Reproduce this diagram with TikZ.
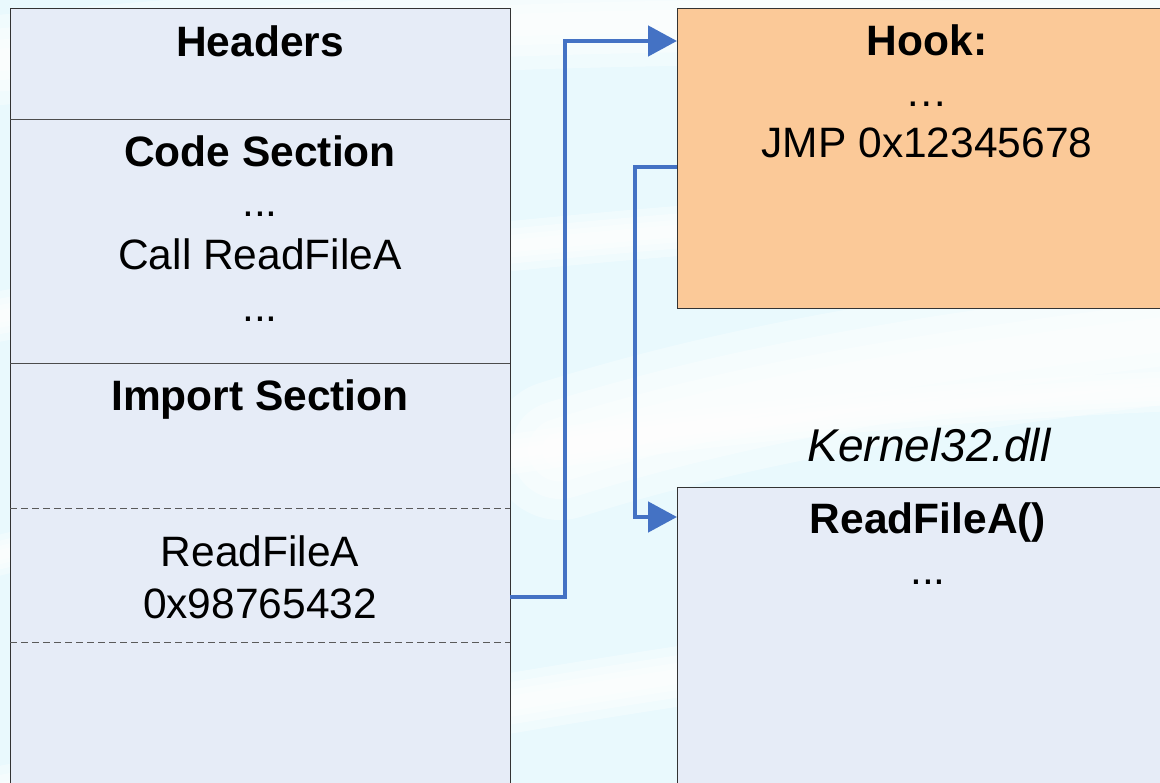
\documentclass[tikz,border=0pt]{standalone}
\usepackage{fontspec}
\setmainfont{Liberation Sans}
\usetikzlibrary{arrows.meta}
\definecolor{bgcyan}{RGB}{233,249,253}
\definecolor{secfill}{RGB}{230,236,247}
\definecolor{hookfill}{RGB}{251,201,152}
\definecolor{linkblue}{RGB}{68,114,196}
\definecolor{dashgray}{RGB}{90,90,90}
\tikzset{
  panel/.style={draw=black!80, line width=1pt},
  sep/.style={draw=black!70, line width=1pt},
  dsep/.style={draw=dashgray, line width=0.9pt, dash pattern=on 7pt off 4pt},
  txt/.style={inner sep=0pt, anchor=base, font=\fontsize{42.5}{50}\selectfont},
  btxt/.style={txt, font=\fontsize{42.5}{50}\selectfont\bfseries},
  link/.style={draw=linkblue, line width=4.8pt, line join=miter,
    -{Triangle[length=29pt 0,width=30pt 0]}},
}
% a soft white streak: several overlapping strokes of falling width
\newcommand\softstreak[2]{%
  \foreach \w in {#1, 0.7*#1, 0.45*#1, 0.25*#1}
    \draw[white, opacity=0.35, line width=\w pt, line cap=round] #2;}
\begin{document}
\begin{tikzpicture}[x=1pt,y=-1pt]
\useasboundingbox (0,0) rectangle (1160,783);
\begin{scope}
\clip (0,0) rectangle (1160,783);
% backdrop
\fill[bgcyan] (0,0) rectangle (1160,783);
\softstreak{90}{(0,60) .. controls (400,20) and (800,10) .. (1200,30)}
\softstreak{50}{(-20,320) .. controls (300,260) and (700,220) .. (1200,200)}
\softstreak{140}{(560,450) .. controls (750,390) and (950,360) .. (1200,330)}
\softstreak{40}{(-20,560) .. controls (300,480) and (700,410) .. (1200,390)}
\softstreak{60}{(-20,800) .. controls (300,740) and (700,660) .. (1200,610)}

% PE image sections
\node[panel, fill=secfill, minimum width=500pt, minimum height=800pt,
  anchor=north west, inner sep=0pt] (pe) at (10,8) {};
\coordinate (hdrsep) at (10,120);
\coordinate (codesep) at (10,364);
\draw[sep] (hdrsep) -- ++(500,0);
\draw[sep] (codesep) -- ++(500,0);
\coordinate (impA) at (10,508);
\coordinate (impB) at (10,642);
\draw[dsep] (impA) -- ++(500,0);
\draw[dsep] (impB) -- ++(500,0);

\node[btxt] (headers) at (260,57) {Headers};
\node[btxt] (codesec) at (260,167) {Code Section};
\node[txt] (cdots1) at (260,217) {...};
\node[txt] (callrf) at (260,270) {Call ReadFileA};
\node[txt] (cdots2) at (260,322) {...};
\node[btxt] (impsec) at (260,411) {Import Section};
\node[txt] (iatname) at (260,566) {ReadFileA};
\node[txt] (iataddr) at (260,618) {0x98765432};

% hook routine
\node[panel, fill=hookfill, minimum width=500pt, minimum height=300pt,
  anchor=north west, inner sep=0pt] (hook) at (677,8) {};
\node[btxt] (hooktitle) at (927,56) {Hook:};
\node[txt] (hookdots) at (927,107) {…};
\node[txt] (jmp) at (927,158) {JMP 0x12345678};

% kernel32 export
\node[txt, font=\fontsize{46}{52}\selectfont\itshape] (k32) at (929,462) {Kernel32.dll};
\node[panel, fill=secfill, minimum width=500pt, minimum height=400pt,
  anchor=north west, inner sep=0pt] (rfa) at (677,487) {};
\node[btxt] (rfatitle) at (928,533) {ReadFileA()};
\node[txt] (rfadots) at (928,584) {...};

% redirections
\coordinate (iatout) at (510,597);
\coordinate (hookin) at (677,41);
\coordinate (hookout) at (677,167);
\coordinate (rfain) at (677,517);
\draw[link] (iatout) -- (565,597) -- (565,41) -- (hookin);
\draw[link] (hookout) -- (635,167) -- (635,517) -- (rfain);
\end{scope}
\end{tikzpicture}
\end{document}
